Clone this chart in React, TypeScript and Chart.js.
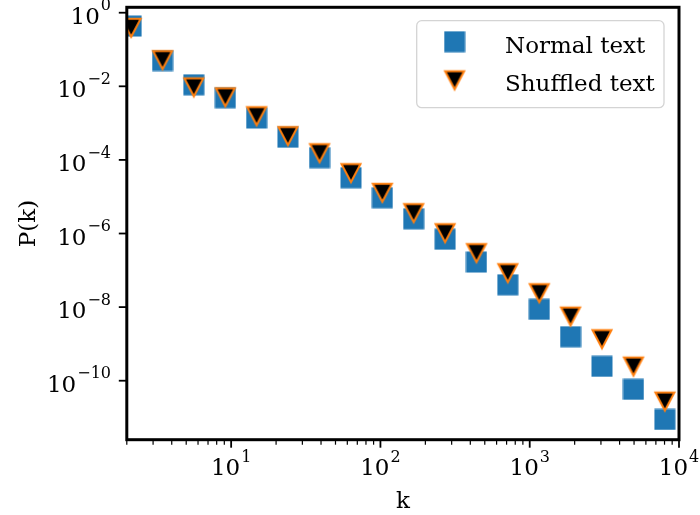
import React, { useEffect, useRef } from "react";
import { Chart, registerables } from "chart.js";

Chart.register(...registerables);

// ---- data ----
const kValues = [2.14, 3.47, 5.62, 9.14, 14.8, 24.0, 39.1, 63.5, 103, 167, 271, 440, 713, 1159, 1876, 3048, 4955, 8035];
const normalP = [0.435, 0.0502, 0.011, 0.0049, 1.38e-3, 4.14e-4, 1.15e-4, 3.28e-5, 9.4e-6, 2.51e-6, 7.0e-7, 1.68e-7, 4.04e-8, 8.7e-9, 1.57e-9, 2.46e-10, 5.83e-11, 8.83e-12];
const shuffledP = [0.384, 0.0509, 9.27e-3, 4.97e-3, 1.53e-3, 4.38e-4, 1.51e-4, 4.33e-5, 1.26e-5, 3.54e-6, 1.01e-6, 2.9e-7, 8.28e-8, 2.37e-8, 5.48e-9, 1.33e-9, 2.4e-10, 2.69e-11];
const seriesLabels = ["Normal text", "Shuffled text"];
const xTickExponents = [1, 2, 3, 4];
const yTickExponents = [0, -2, -4, -6, -8, -10];
const xLabel = "k";
const yLabel = "P(k)";
const xMin = 2;
const xMax = 1e4;
const yMin = Math.pow(10, -11.603);
const yMax = Math.pow(10, 0.147);

const FONT = '"DejaVu Serif", serif';
const MAIN = 23;
const SUP = 16;

function makeSquare(): HTMLCanvasElement {
  const c = document.createElement("canvas");
  c.width = 22;
  c.height = 22;
  const g = c.getContext("2d")!;
  g.fillStyle = "#1f77b4";
  g.fillRect(0.5, 0.5, 21, 21);
  return c;
}

function makeTriangle(): HTMLCanvasElement {
  const c = document.createElement("canvas");
  c.width = 28;
  c.height = 28;
  const g = c.getContext("2d")!;
  const cx = 14, cy = 14;
  g.beginPath();
  g.moveTo(cx - 9.5, cy - 9.3);
  g.lineTo(cx + 9.5, cy - 9.3);
  g.lineTo(cx, cy + 8.8);
  g.closePath();
  g.fillStyle = "#000000";
  g.fill();
  g.lineJoin = "miter";
  g.lineWidth = 2;
  g.strokeStyle = "#ff7f0e";
  g.stroke();
  return c;
}

function supLabel(ctx: CanvasRenderingContext2D, exp: number) {
  const base = "10";
  const e = exp < 0 ? "\u2212" + String(-exp) : String(exp);
  ctx.font = `${MAIN}px ${FONT}`;
  const wb = ctx.measureText(base).width;
  ctx.font = `${SUP}px ${FONT}`;
  const we = ctx.measureText(e).width;
  return { base, e, wb, we, total: wb + we + 1 };
}

function drawPow(ctx: CanvasRenderingContext2D, exp: number, x: number, baseY: number, align: "right" | "center") {
  const m = supLabel(ctx, exp);
  const start = align === "right" ? x - m.total : x - m.total / 2;
  ctx.textAlign = "left";
  ctx.textBaseline = "alphabetic";
  ctx.font = `${MAIN}px ${FONT}`;
  ctx.fillText(m.base, start, baseY);
  ctx.font = `${SUP}px ${FONT}`;
  ctx.fillText(m.e, start + m.wb + 1, baseY - 13.3);
}

const framePlugin = {
  id: "framePlugin",
  afterDraw(chart: any) {
    const { ctx, chartArea: a, scales } = chart;
    const xs = scales.x;
    const ys = scales.y;
    ctx.save();
    ctx.strokeStyle = "#000";
    ctx.fillStyle = "#000";

    // x minor ticks
    ctx.lineWidth = 1.2;
    for (let p = 0; p <= 3; p++) {
      for (let m = 2; m <= 9; m++) {
        const v = m * Math.pow(10, p);
        if (v < xMin - 1e-9 || v > xMax) continue;
        const px = xs.getPixelForValue(v);
        ctx.beginPath();
        ctx.moveTo(px, a.bottom);
        ctx.lineTo(px, a.bottom + 5);
        ctx.stroke();
      }
    }
    // x major ticks + labels
    ctx.lineWidth = 1.8;
    xTickExponents.forEach((e) => {
      const px = xs.getPixelForValue(Math.pow(10, e));
      ctx.beginPath();
      ctx.moveTo(px, a.bottom);
      ctx.lineTo(px, a.bottom + 8);
      ctx.stroke();
      drawPow(ctx, e, px, 475, "center");
    });
    // y major ticks + labels
    yTickExponents.forEach((e) => {
      const py = ys.getPixelForValue(Math.pow(10, e));
      ctx.beginPath();
      ctx.moveTo(a.left - 8, py);
      ctx.lineTo(a.left, py);
      ctx.stroke();
      drawPow(ctx, e, 111, py + 11, "right");
    });

    // frame
    ctx.lineWidth = 3;
    ctx.strokeRect(a.left, a.top, a.right - a.left, a.bottom - a.top);

    // axis titles
    ctx.font = `${MAIN}px ${FONT}`;
    ctx.textAlign = "center";
    ctx.textBaseline = "alphabetic";
    ctx.fillText(xLabel, (a.left + a.right) / 2, 508);
    ctx.save();
    ctx.translate(35, (a.top + a.bottom) / 2);
    ctx.rotate(-Math.PI / 2);
    ctx.fillText(yLabel, 0, 0);
    ctx.restore();

    // legend
    const lx = 416.7, ly = 20.7, lw = 247.3, lh = 87, r = 5;
    ctx.beginPath();
    ctx.moveTo(lx + r, ly);
    ctx.lineTo(lx + lw - r, ly);
    ctx.arcTo(lx + lw, ly, lx + lw, ly + r, r);
    ctx.lineTo(lx + lw, ly + lh - r);
    ctx.arcTo(lx + lw, ly + lh, lx + lw - r, ly + lh, r);
    ctx.lineTo(lx + r, ly + lh);
    ctx.arcTo(lx, ly + lh, lx, ly + lh - r, r);
    ctx.lineTo(lx, ly + r);
    ctx.arcTo(lx, ly, lx + r, ly, r);
    ctx.closePath();
    ctx.fillStyle = "rgba(255,255,255,0.85)";
    ctx.fill();
    ctx.lineWidth = 1.3;
    ctx.strokeStyle = "#d4d4d4";
    ctx.stroke();

    const rowsY = [41.7, 80.5];
    const textBase = [52.7, 90.7];
    chart.data.datasets.forEach((ds: any, i: number) => {
      const img = ds.pointStyle as HTMLCanvasElement;
      ctx.drawImage(img, 454.6 - img.width / 2, rowsY[i] - img.height / 2);
      ctx.fillStyle = "#000";
      ctx.font = `${MAIN}px ${FONT}`;
      ctx.textAlign = "left";
      ctx.fillText(seriesLabels[i], 505, textBase[i]);
    });

    ctx.restore();
  },
};

export default function App() {
  const ref = useRef<HTMLCanvasElement | null>(null);
  useEffect(() => {
    if (!ref.current) return;
    const sq = makeSquare();
    const tri = makeTriangle();
    const chart = new Chart(ref.current, {
      type: "scatter",
      data: {
        datasets: [
          {
            label: seriesLabels[0],
            data: kValues.map((k, i) => ({ x: k, y: normalP[i] })),
            pointStyle: sq as any,
            order: 1,
            clip: 0 as any,
          },
          {
            label: seriesLabels[1],
            data: kValues.map((k, i) => ({ x: k, y: shuffledP[i] })),
            pointStyle: tri as any,
            order: 0,
            clip: 0 as any,
          },
        ],
      },
      options: {
        animation: false,
        responsive: false,
        events: [],
        layout: { padding: { left: 126.8, right: 21, top: 7.3, bottom: 75.3 } },
        scales: {
          x: { type: "logarithmic", min: xMin, max: xMax, display: false },
          y: { type: "logarithmic", min: yMin, max: yMax, display: false },
        },
        plugins: { legend: { display: false }, tooltip: { enabled: false } },
      },
      plugins: [framePlugin as any],
    });
    return () => chart.destroy();
  }, []);
  return (
    <div style={{ position: "absolute", left: 0, top: 0, width: 700, height: 515, background: "#fff" }}>
      <canvas ref={ref} width={700} height={515} style={{ display: "block" }} />
    </div>
  );
}
